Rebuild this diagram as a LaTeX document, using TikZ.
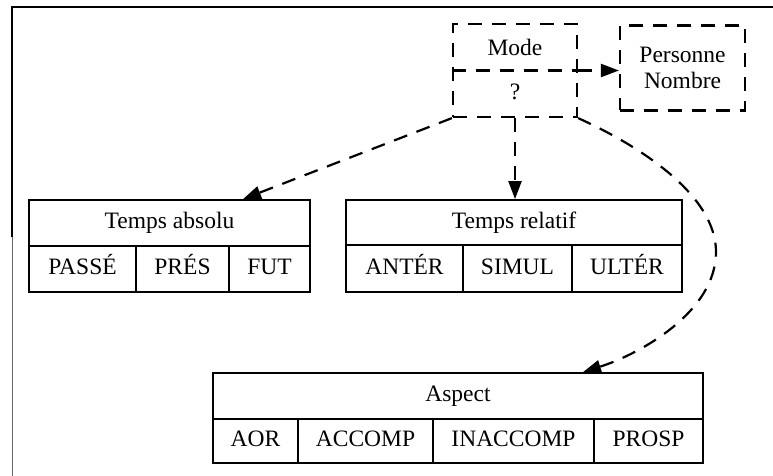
\documentclass[tikz,border=0pt]{standalone}
\usepackage{fontspec}
\setmainfont{Liberation Serif}
\usetikzlibrary{arrows.meta,calc}
\begin{document}
\begin{tikzpicture}[x=1pt,y=-1pt,
  txt/.style={font=\fontsize{23.5}{26}\selectfont},
  cell/.style={draw, line width=1.8pt, inner sep=0pt, txt, text height=16pt, text depth=5pt},
  dpat/.style={line width=2.2pt, dash pattern=on 14pt off 10pt},
  dbox/.style={draw, dpat, inner sep=0pt},
  darr/.style={dpat, -{Triangle[length=18pt,width=13pt]}}]
\useasboundingbox (0,0) rectangle (773,476);
% frame
\draw[line width=1.8pt] (773,7) -- (12,7) -- (12,237);
\draw[line width=0.8pt, black!60] (12,237) -- (12,476);
% Mode box
\node[dbox, minimum width=124pt, minimum height=93pt] (mode) at (515,70.5) {};
\node[txt] (modet) at (515,47) {Mode};
\node[txt] (modeq) at (515,92) {?};
\draw[dpat] (mode.west) -- (mode.east);
% Personne Nombre
\node[dbox, minimum width=125pt, minimum height=85pt, txt, align=center] (pn) at (682.5,68) {Personne\\Nombre};
\draw[darr] (mode.east) -- (mode.east -| pn.west);
% Temps absolu
\node[cell, minimum width=281pt, minimum height=46pt] (abs) at (169.5,223) {Temps absolu};
\node[cell, minimum width=107pt, minimum height=46pt] (passe) at (82.5,269) {PASSÉ};
\node[cell, minimum width=93pt, minimum height=46pt] (pres) at (182.5,269) {PRÉS};
\node[cell, minimum width=81pt, minimum height=46pt] (fut) at (269.5,269) {FUT};
% Temps relatif
\node[cell, minimum width=336pt, minimum height=45pt] (rel) at (514,222.5) {Temps relatif};
\node[cell, minimum width=117pt, minimum height=47pt] (anter) at (404.5,268.5) {ANTÉR};
\node[cell, minimum width=109pt, minimum height=47pt] (simul) at (517.5,268.5) {SIMUL};
\node[cell, minimum width=110pt, minimum height=47pt] (ulter) at (627,268.5) {ULTÉR};
% Aspect
\node[cell, minimum width=490pt, minimum height=46pt] (asp) at (458,396) {Aspect};
\node[cell, minimum width=85pt, minimum height=44pt] (aor) at (255.5,441) {AOR};
\node[cell, minimum width=135pt, minimum height=44pt] (accomp) at (365.5,441) {ACCOMP};
\node[cell, minimum width=161pt, minimum height=44pt] (inaccomp) at (513.5,441) {INACCOMP};
\node[cell, minimum width=109pt, minimum height=44pt] (prosp) at (648.5,441) {PROSP};
% arrows
\coordinate (absin) at (abs.north -| 243,0);
\coordinate (aspin) at (asp.north -| 583,0);
\draw[darr] (mode.south west) -- (absin);
\draw[darr] (mode.south) -- (mode.south |- rel.north);
\draw[darr] (mode.south east) .. controls (640,146) and (716,195) .. (716,252)
  .. controls (716,312) and (640,354) .. (aspin);
\end{tikzpicture}
\end{document}
